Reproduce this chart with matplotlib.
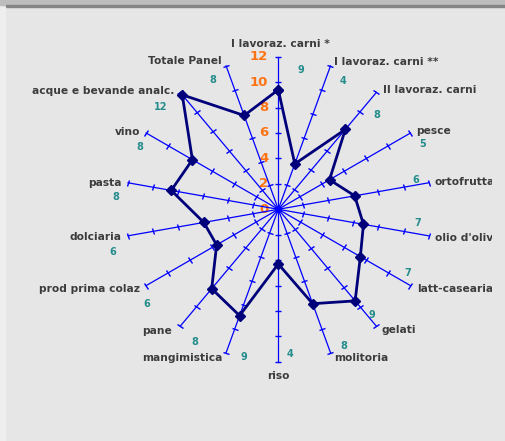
import numpy as np
import matplotlib
matplotlib.use("Agg")
import matplotlib.pyplot as plt
from matplotlib.markers import MarkerStyle
from matplotlib.transforms import Affine2D, Bbox, TransformedBbox
from matplotlib.patches import Rectangle

# ---------------- data ----------------
categories = ["I lavoraz. carni *", "I lavoraz. carni **", "II lavoraz. carni", "pesce",
              "ortofrutta", "olio d'oliva", "latt-casearia", "gelati", "molitoria", "riso",
              "mangimistica", "pane", "prod prima colaz", "dolciaria", "pasta", "vino",
              "acque e bevande analc.", "Totale Panel"]
values = [9.4, 3.8, 8.2, 4.65, 6.1, 6.8, 7.45, 9.4, 7.9, 4.3,
          8.9, 8.15, 5.6, 5.95, 8.55, 7.8, 11.75, 7.85]
value_labels = ["9", "4", "8", "5", "6", "7", "7", "9", "8", "4",
                "9", "8", "6", "6", "8", "8", "12", "8"]
scale_ticks = [0, 2, 4, 6, 8, 10, 12]

# ---------------- layout / style (pixels) ----------------
W, H = 506, 441
CX, CY, R = 278.3, 209.3, 152.6
# category label offsets from axis end (dx, dy screen px, dy down) and alignment
cat_off = [(2, -12.7, "center"), (3.5, -3.6, "left"), (6.6, -2.4, "left"), (5.5, -2, "left"),
           (6.4, -0.8, "left"), (6.4, 2.2, "left"), (6.5, 3.4, "left"), (5.6, 3.8, "left"),
           (3.5, 5.3, "left"), (0, 14, "center"), (-4, 5.3, "right"), (-8, 4.8, "right"),
           (-6, 3.4, "right"), (-7, 1.2, "right"), (-6, 0, "right"), (-6, -1, "right"),
           (-6, -1.4, "right"), (-4, -5, "right")]
val_off = [(23, 13), (12.5, 15.4), (0.6, 22.6), (12.5, 11), (-12.6, -2.8), (-10.6, -12.8),
           (-2.5, -12.6), (-4.4, -11.2), (13.5, -6.7), (11.7, -7.9), (17.9, 4.3), (14.8, 15.8),
           (0.9, 18.4), (-15, 16.2), (-12, 14.2), (-6.1, 14), (-20, 14.6), (-13, 14)]

AXIS_BLUE = "#0000ff"
LINE_NAVY = "#00007a"
ORANGE = "#ff7314"
TEAL = "#258c8c"
LABEL_GRAY = "#3c3c3c"

fig = plt.figure(figsize=(W / 100, H / 100), dpi=100, facecolor="#e6e6e6")
# window-like decorations
fig.patches.append(Rectangle((0, 1 - 5 / H), 1, 5 / H, transform=fig.transFigure,
                             color="#bdbdbd", zorder=0))
fig.patches.append(Rectangle((6 / W, 1 - 7 / H), 1, 2 / H, transform=fig.transFigure,
                             color="#858585", zorder=0))
fig.patches.append(Rectangle((0, 0), 5 / W, 1 - 7 / H, transform=fig.transFigure,
                             color="#eeeeee", zorder=0))

ax = fig.add_axes([(CX - R) / W, (H - CY - R) / H, 2 * R / W, 2 * R / H], projection="polar")
ax.set_theta_zero_location("N")
ax.set_theta_direction(-1)
ax.set_ylim(0, scale_ticks[-1])
ax.set_axis_off()

n = len(categories)
thetas = np.arange(n) * 2 * np.pi / n
rmax = scale_ticks[-1]

clipbox = TransformedBbox(Bbox.from_extents(0, 0, 492 / W, 1), fig.transFigure)

for i, th in enumerate(thetas):
    ax.plot([th, th], [0, rmax], color=AXIS_BLUE, lw=0.9, clip_on=False, zorder=2)
    mk = MarkerStyle("_", transform=Affine2D().rotate_deg(-np.degrees(th)))
    ax.plot([th] * (len(scale_ticks) - 1), scale_ticks[1:], ls="none", marker=mk,
            ms=5, mew=1, color=AXIS_BLUE, clip_on=False, zorder=2)
    dx, dy, ha = cat_off[i]
    t = ax.annotate(categories[i], xy=(th, rmax), xytext=(dx, -dy), textcoords="offset pixels",
                    ha=ha, va="center", fontsize=7.7, fontweight="bold", color=LABEL_GRAY,
                    annotation_clip=False)
    t.set_clip_box(clipbox)
    t.set_clip_on(True)
    vx, vy = val_off[i]
    ax.annotate(value_labels[i], xy=(th, rmax), xytext=(vx, -vy), textcoords="offset pixels",
                ha="center", va="center", fontsize=7, fontweight="bold", color=TEAL,
                annotation_clip=False)

ax.plot([0], [0], marker="o", ms=4, color=AXIS_BLUE, clip_on=False, zorder=2)

for v in scale_ticks:
    ax.annotate(str(v), xy=(0, v), xytext=(-10, 0), textcoords="offset pixels",
                ha="right", va="center", fontsize=9.5, fontweight="bold", color=ORANGE,
                annotation_clip=False, zorder=1)

ax.plot(np.append(thetas, thetas[0]), np.append(values, values[0]), color=LINE_NAVY, lw=2,
        marker="D", ms=5.5, mew=1, mfc=LINE_NAVY, mec=LINE_NAVY, clip_on=False, zorder=3)

fig.savefig("out.png", dpi=100, facecolor=fig.get_facecolor())
